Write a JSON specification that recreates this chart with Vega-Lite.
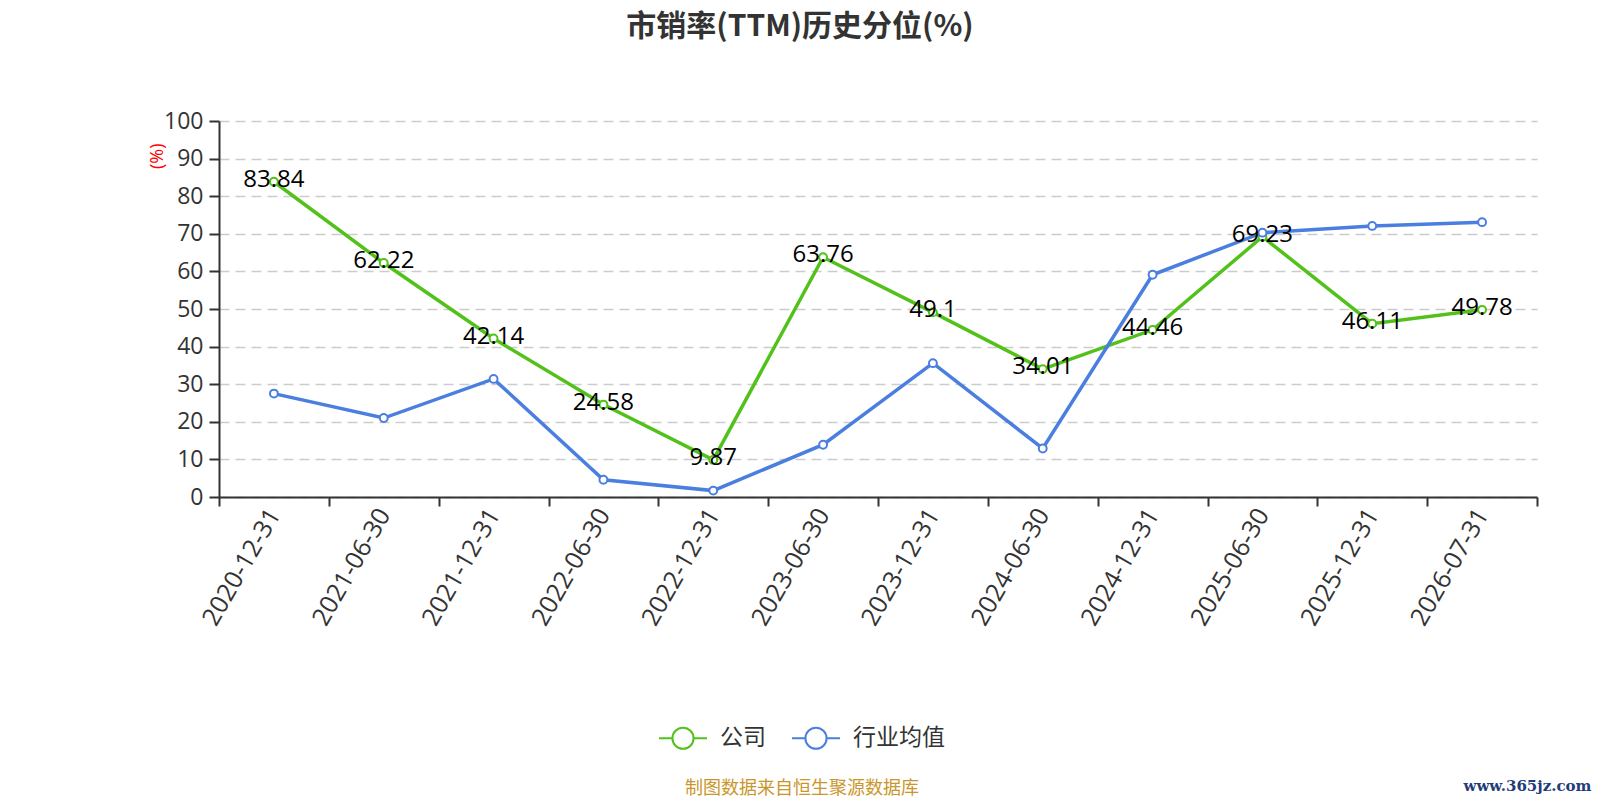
{
  "$schema": "https://vega.github.io/schema/vega-lite/v6.json",
  "autosize": {"type": "none"},
  "width": 1318,
  "height": 376,
  "padding": {"left": 219, "top": 121, "right": 63, "bottom": 303},
  "background": "white",
  "config": {
    "view": {"stroke": null},
    "font": "Open Sans, Noto Sans CJK SC"
  },
  "title": {
    "text": "市销率(TTM)历史分位(%)",
    "font": "Noto Sans CJK SC",
    "fontSize": 30,
    "fontWeight": "bold",
    "color": "#333333",
    "anchor": "middle",
    "dx": -78,
    "offset": 68
  },
  "data": {
    "values": [
      {"date": "2020-12-31", "series": "公司", "value": 83.84},
      {"date": "2021-06-30", "series": "公司", "value": 62.22},
      {"date": "2021-12-31", "series": "公司", "value": 42.14},
      {"date": "2022-06-30", "series": "公司", "value": 24.58},
      {"date": "2022-12-31", "series": "公司", "value": 9.87},
      {"date": "2023-06-30", "series": "公司", "value": 63.76},
      {"date": "2023-12-31", "series": "公司", "value": 49.1},
      {"date": "2024-06-30", "series": "公司", "value": 34.01},
      {"date": "2024-12-31", "series": "公司", "value": 44.46},
      {"date": "2025-06-30", "series": "公司", "value": 69.23},
      {"date": "2025-12-31", "series": "公司", "value": 46.11},
      {"date": "2026-07-31", "series": "公司", "value": 49.78},
      {"date": "2020-12-31", "series": "行业均值", "value": 27.5},
      {"date": "2021-06-30", "series": "行业均值", "value": 21.0},
      {"date": "2021-12-31", "series": "行业均值", "value": 31.4},
      {"date": "2022-06-30", "series": "行业均值", "value": 4.6},
      {"date": "2022-12-31", "series": "行业均值", "value": 1.7},
      {"date": "2023-06-30", "series": "行业均值", "value": 13.9},
      {"date": "2023-12-31", "series": "行业均值", "value": 35.6},
      {"date": "2024-06-30", "series": "行业均值", "value": 12.9},
      {"date": "2024-12-31", "series": "行业均值", "value": 59.1},
      {"date": "2025-06-30", "series": "行业均值", "value": 70.3},
      {"date": "2025-12-31", "series": "行业均值", "value": 72.1},
      {"date": "2026-07-31", "series": "行业均值", "value": 73.1}
    ]
  },
  "encoding": {
    "x": {
      "field": "date",
      "type": "ordinal",
      "bandPosition": 0.5,
      "scale": {"type": "band", "paddingInner": 0, "paddingOuter": 0},
      "axis": {
        "title": "www.365jz.com",
        "titleFont": "DejaVu Serif",
        "titleFontSize": 15,
        "titleFontWeight": "bold",
        "titleColor": "#1f3d7a",
        "titleAlign": "right",
        "titleBaseline": "alphabetic",
        "titleX": 1372,
        "titleY": 293,
        "labelAngle": -60,
        "labelAlign": "right",
        "labelBaseline": "middle",
        "labelFontSize": 25,
        "labelColor": "#333333",
        "labelPadding": 4,
        "tickBand": "extent",
        "tickSize": 9,
        "tickWidth": 2,
        "tickColor": "#333333",
        "domainColor": "#333333",
        "domainWidth": 2,
        "grid": false
      }
    },
    "y": {
      "field": "value",
      "type": "quantitative",
      "scale": {"domain": [0, 100], "nice": false},
      "axis": {
        "title": "(%)",
        "titleColor": "#ff0000",
        "titleFontSize": 18,
        "titleFontWeight": "normal",
        "titleAlign": "right",
        "titleBaseline": "middle",
        "titleX": -62,
        "titleY": 22,
        "values": [0, 10, 20, 30, 40, 50, 60, 70, 80, 90, 100],
        "labelFontSize": 23,
        "labelColor": "#333333",
        "labelPadding": 6,
        "tickSize": 10,
        "tickWidth": 2,
        "tickColor": "#333333",
        "domainColor": "#333333",
        "domainWidth": 2,
        "grid": true,
        "gridColor": "#cccccc",
        "gridWidth": 1.5,
        "gridDash": [10, 6]
      }
    },
    "color": {
      "field": "series",
      "type": "nominal",
      "scale": {"domain": ["公司", "行业均值"], "range": ["#52c21a", "#4a7fe0"]},
      "legend": {
        "orient": "none",
        "legendX": 439,
        "legendY": 592,
        "direction": "horizontal",
        "padding": 0,
        "title": "制图数据来自恒生聚源数据库",
        "titleOrient": "bottom",
        "titleAnchor": "middle",
        "titleLimit": 0,
        "titleFont": "Noto Sans CJK SC",
        "titleFontSize": 18,
        "titleFontWeight": "normal",
        "titleColor": "#c9962b",
        "titlePadding": 27,
        "symbolType": "M-1,0H-0.44M0.44,0H1M-0.44,0A0.44,0.44 0 1,0 0.44,0A0.44,0.44 0 1,0 -0.44,0",
        "symbolSize": 2304,
        "symbolStrokeWidth": 2,
        "symbolFillColor": "#ffffff",
        "labelFont": "Noto Sans CJK SC",
        "labelFontSize": 23,
        "labelColor": "#333333",
        "labelOffset": 12,
        "columnPadding": 22
      }
    }
  },
  "layer": [
    {"mark": {"type": "line", "strokeWidth": 3.5}},
    {"mark": {"type": "point", "filled": false, "fill": "#ffffff", "fillOpacity": 1, "size": 62, "strokeWidth": 2, "opacity": 1}},
    {
      "transform": [{"filter": "datum.series == '公司'"}],
      "mark": {"type": "text", "fontSize": 24, "color": "#000000", "align": "center", "baseline": "middle", "dy": -2},
      "encoding": {"text": {"field": "value", "type": "nominal"}, "color": {"value": "#000000"}}
    }
  ]
}
